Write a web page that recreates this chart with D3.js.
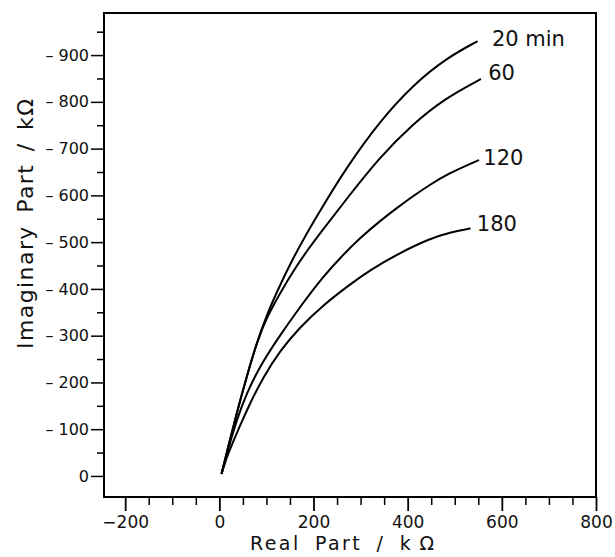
<!DOCTYPE html>
<html>
<head>
<meta charset="utf-8">
<script src="https://cdn.jsdelivr.net/npm/d3@7"></script>
<style>
  body { margin: 0; background: #fff; }
  svg { display: block; font-family: "DejaVu Sans", sans-serif; }
</style>
</head>
<body>
<div id="vis"></div>
<script>
// Nyquist-style curves (kOhm)
const series_names = ['20 min', '60', '120', '180'];

const real_20 = [5, 19, 37, 58, 79, 101, 122, 150, 186, 221, 271, 341, 412, 483, 547];
const imag_20 = [6, 63, 135, 212, 284, 345, 393, 453, 520, 579, 661, 759, 837, 894, 929];

const real_60 = [5, 19, 37, 58, 79, 101, 130, 160, 190, 220, 270, 340, 410, 480, 554];
const imag_60 = [6, 63, 135, 212, 284, 340, 393, 443, 487, 527, 592, 681, 752, 808, 848];

const real_120 = [5, 20, 37, 58, 86, 122, 171, 220, 260, 300, 341, 377, 412, 448, 483, 550];
const imag_120 = [6, 62, 120, 177, 234, 291, 361, 426, 470, 510, 545, 573, 599, 623, 645, 675];

const real_180 = [5, 14, 23, 44, 65, 93, 129, 171, 220, 278, 320, 377, 448, 490, 532];
const imag_180 = [6, 35, 58, 108, 155, 211, 268, 318, 365, 410, 440, 474, 508, 521, 529];

const x_ticks = [-200, 0, 200, 400, 600, 800];
const y_ticks = [0, 100, 200, 300, 400, 500, 600, 700, 800, 900];

const width = 615;
const height = 557;

const frame = {left: 104, right: 596, top: 13, bottom: 497};

const svg = d3.select('#vis').append('svg')
    .attr('width', width)
    .attr('height', height)
    .attr('viewBox', [0, 0, width, height]);

const x = d3.scaleLinear().domain([-245, 800]).range([frame.left, frame.right]);
const y = d3.scaleLinear().domain([-45, 990]).range([frame.bottom, frame.top]);

// minor ticks every 50
const x_minor = d3.range(-200, 801, 50).filter(d => d % 200 !== 0);
const y_minor = d3.range(0, 951, 50).filter(d => d % 100 !== 0);

svg.append('g')
    .attr('transform', `translate(0,${frame.bottom})`)
    .call(d3.axisBottom(x).tickValues(x_minor).tickSize(8).tickFormat(''))
    .call(g => g.select('.domain').remove())
    .call(g => g.selectAll('line').attr('stroke-width', 1.5));

const xAxis = svg.append('g')
    .attr('transform', `translate(0,${frame.bottom})`)
    .call(d3.axisBottom(x).tickValues(x_ticks).tickSize(14)
        .tickFormat(d => d < 0 ? '\u2212' + Math.abs(d) : d))
    .call(g => g.select('.domain').remove());
xAxis.selectAll('line').attr('stroke-width', 1.8);
xAxis.selectAll('text')
    .attr('y', 31)
    .attr('dy', 0)
    .attr('font-size', 17)
    .attr('font-family', '"DejaVu Sans", sans-serif')
    .attr('fill', '#111');

svg.append('g')
    .attr('transform', `translate(${frame.left},0)`)
    .call(d3.axisLeft(y).tickValues(y_minor).tickSize(7).tickFormat(''))
    .call(g => g.select('.domain').remove())
    .call(g => g.selectAll('line').attr('stroke-width', 1.5));

const yAxis = svg.append('g')
    .attr('transform', `translate(${frame.left},0)`)
    .call(d3.axisLeft(y).tickValues(y_ticks).tickSize(13).tickPadding(2)
        .tickFormat(d => d === 0 ? '0' : '\u2013 ' + d))
    .call(g => g.select('.domain').remove());
yAxis.selectAll('line').attr('stroke-width', 1.5);
yAxis.selectAll('text')
    .attr('font-size', 16)
    .attr('font-family', '"DejaVu Sans", sans-serif')
    .attr('fill', '#111');

// frame
svg.append('rect')
    .attr('x', frame.left)
    .attr('y', frame.top)
    .attr('width', frame.right - frame.left)
    .attr('height', frame.bottom - frame.top)
    .attr('fill', 'none')
    .attr('stroke', '#000')
    .attr('stroke-width', 2);

// curves
const data = [
    d3.zip(real_20, imag_20),
    d3.zip(real_60, imag_60),
    d3.zip(real_120, imag_120),
    d3.zip(real_180, imag_180)
];

// basis spline smooths the hand-read points a little
const line = d3.line()
    .x(d => x(d[0]))
    .y(d => y(d[1]))
    .curve(d3.curveBasis);

svg.append('g')
    .selectAll('path')
    .data(data)
    .join('path')
    .attr('d', line)
    .attr('fill', 'none')
    .attr('stroke', '#000')
    .attr('stroke-width', 2)
    .attr('stroke-linecap', 'round');

// labels at the curve ends
const label_dx = [15, 8, 5, 7];
const label_dy = [4, 1, 5, 2];

svg.append('g')
    .selectAll('text')
    .data(data)
    .join('text')
    .attr('x', (d, i) => x(d[d.length - 1][0]) + label_dx[i])
    .attr('y', (d, i) => y(d[d.length - 1][1]) + label_dy[i])
    .attr('font-size', 21)
    .attr('fill', '#111')
    .text((d, i) => series_names[i]);

// axis titles
svg.append('text')
    .attr('x', 342)
    .attr('y', 550)
    .attr('text-anchor', 'middle')
    .attr('font-size', 19)
    .attr('word-spacing', 6)
    .attr('textLength', 184)
    .attr('lengthAdjust', 'spacing')
    .attr('fill', '#111')
    .text('Real Part / k\u2009\u03A9');

svg.append('text')
    .attr('transform', 'translate(33,224) rotate(-90)')
    .attr('text-anchor', 'middle')
    .attr('font-size', 22)
    .attr('word-spacing', 4)
    .attr('textLength', 250)
    .attr('lengthAdjust', 'spacing')
    .attr('fill', '#111')
    .text('Imaginary Part / k\u03A9');
</script>
</body>
</html>
